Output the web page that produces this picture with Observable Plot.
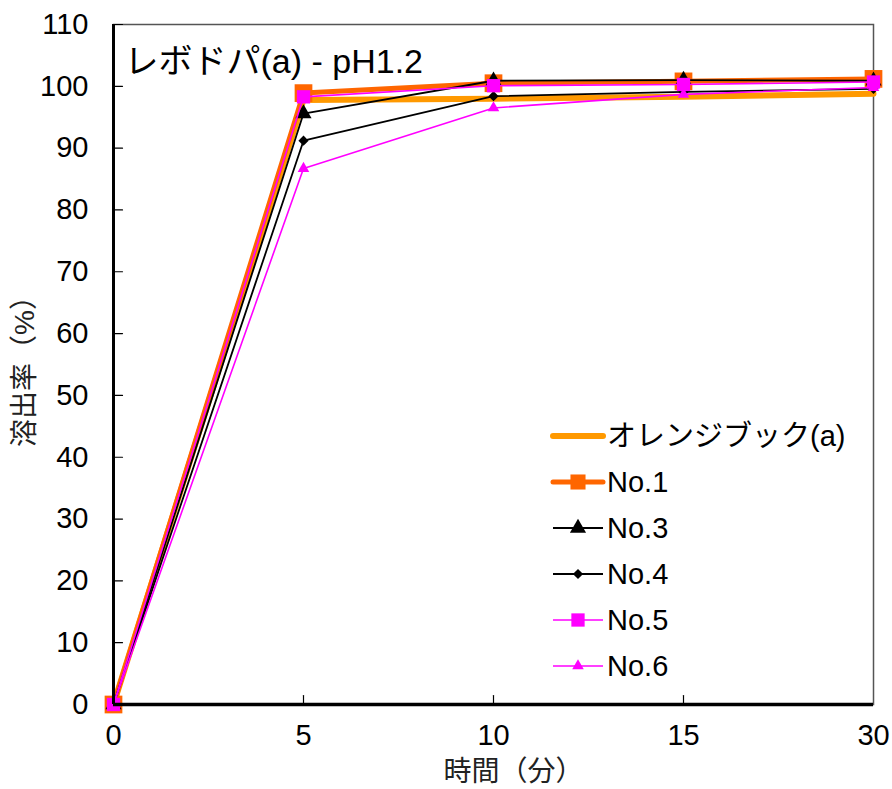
<!DOCTYPE html>
<html>
<head>
<meta charset="utf-8">
<script src="https://cdn.jsdelivr.net/npm/d3@7"></script>
<script src="https://cdn.jsdelivr.net/npm/@observablehq/plot@0.6"></script>
<style>
  html, body { margin: 0; padding: 0; background: #fff; }
  #chart { position: relative; width: 892px; height: 789px; }
</style>
</head>
<body>
<div id="chart"></div>
<script>
// ---- data ----
const times = ["0", "5", "10", "15", "30"];
const seriesNames = ["オレンジブック(a)", "No.1", "No.3", "No.4", "No.5", "No.6"];
const orangeBook = [0, 97.8, 98.0, 98.3, 98.8];
const no1 = [0, 98.9, 100.5, 100.8, 101.2];
const no3 = [0, 95.6, 100.9, 101.0, 100.9];
const no4 = [0, 91.2, 98.4, 99.1, 99.6];
const no5 = [0, 98.3, 100.1, 100.3, 100.7];
const no6 = [0, 86.7, 96.5, 98.7, 99.8];
const yTicks = [0, 10, 20, 30, 40, 50, 60, 70, 80, 90, 100, 110];
const titleText = "レボドパ(a) - pH1.2";
const xLabel = "時間（分）";
const yLabel = "溶出率（%）";

const seriesValues = [orangeBook, no1, no3, no4, no5, no6];

// ---- styles ----
const styles = [
  {color: "#FF9900", width: 6, symbol: null, r: 0},
  {color: "#FF6600", width: 5, symbol: "square", r: 10},
  {color: "#000000", width: 1.8, symbol: "triangle", r: 6},
  {color: "#000000", width: 1.8, symbol: "diamond2", r: 4.6},
  {color: "#FF00FF", width: 1.6, symbol: "square", r: 7.5},
  {color: "#FF00FF", width: 1.6, symbol: "triangle", r: 4.3}
];

const rows = seriesNames.flatMap((name, i) =>
  times.map((t, j) => ({series: name, idx: i, t, v: seriesValues[i][j]})));

const font = "Arial, 'Liberation Sans', 'Noto Sans CJK JP', sans-serif";
const tickShape = {draw(context, l) { context.moveTo(0, 0); context.lineTo(0, -l); }};

const seriesMarks = seriesNames.flatMap((name, i) => {
  const d = rows.filter(r => r.idx === i);
  const s = styles[i];
  const m = [Plot.line(d, {x: "t", y: "v", stroke: s.color, strokeWidth: s.width, strokeLinejoin: "round"})];
  if (s.symbol) m.push(Plot.dot(d, {x: "t", y: "v", symbol: () => s.symbol, r: s.r, fill: s.color, stroke: "none"}));
  return m;
});

const chart = Plot.plot({
  width: 892,
  height: 789,
  marginLeft: 113,
  marginRight: 19,
  marginTop: 24,
  marginBottom: 85,
  style: {fontFamily: font, background: "white", color: "black", overflow: "visible"},
  x: {type: "point", domain: times, padding: 0},
  y: {domain: [0, 110]},
  symbol: {type: "identity"},
  marks: [
    Plot.frame({stroke: "#555", strokeWidth: 1.5}),
    Plot.axisY(yTicks, {tickSize: 0, tickPadding: 25, fontSize: 29, label: null, fill: "black"}),
    Plot.axisX(times, {tickSize: 0, tickPadding: 20, fontSize: 29, label: null, fill: "black"}),
    Plot.vector(yTicks, {x: () => "0", y: d => d, rotate: 90, length: 9, anchor: "start", shape: tickShape, stroke: "black", strokeWidth: 1.2}),
    Plot.vector(times.slice(1, -1), {x: d => d, y: () => 0, rotate: 0, length: 9, anchor: "start", shape: tickShape, stroke: "black", strokeWidth: 1.2}),
    ...seriesMarks,
    Plot.ruleX([times[0]], {stroke: "black", strokeWidth: 3}),
    Plot.ruleY([0], {stroke: "black", strokeWidth: 3.5}),
    Plot.text([titleText], {text: d => d, frameAnchor: "top-left", textAnchor: "start", lineAnchor: "middle", dx: 11, dy: 38, fontSize: 34, fill: "black"}),
    Plot.text([xLabel], {text: d => d, frameAnchor: "bottom", textAnchor: "middle", lineAnchor: "middle", dx: 20, dy: 68, fontSize: 28, fill: "#222"}),
    Plot.text([yLabel], {text: d => d, frameAnchor: "left", textAnchor: "middle", lineAnchor: "middle", rotate: -90, dx: -88, fontSize: 28, fill: "#222"})
  ]
});

document.getElementById("chart").appendChild(chart);

// ---- legend (inside plot area) ----
const svg = d3.select(chart);
const lg = svg.append("g").attr("font-family", font).attr("text-anchor", "start");
const legX0 = 553, legX1 = 603, legTextX = 607, legY0 = 436, legDY = 46;
const symMap = {square: d3.symbolSquare, triangle: d3.symbolTriangle, diamond2: d3.symbolDiamond2};
seriesNames.forEach((name, i) => {
  const s = styles[i];
  const y = legY0 + i * legDY;
  lg.append("line").attr("x1", legX0).attr("x2", legX1).attr("y1", y).attr("y2", y)
    .attr("stroke", s.color).attr("stroke-width", s.width).attr("stroke-linecap", i < 2 ? "round" : "butt");
  if (s.symbol) {
    const rr = i === 1 ? 8.5 : s.r;
    lg.append("path").attr("d", d3.symbol(symMap[s.symbol], Math.PI * rr * rr)())
      .attr("transform", `translate(${(legX0 + legX1) / 2},${y})`).attr("fill", s.color);
  }
  lg.append("text").attr("x", legTextX).attr("y", y).attr("dy", "0.35em")
    .attr("font-size", 29).attr("fill", "black").text(name);
});
</script>
</body>
</html>
